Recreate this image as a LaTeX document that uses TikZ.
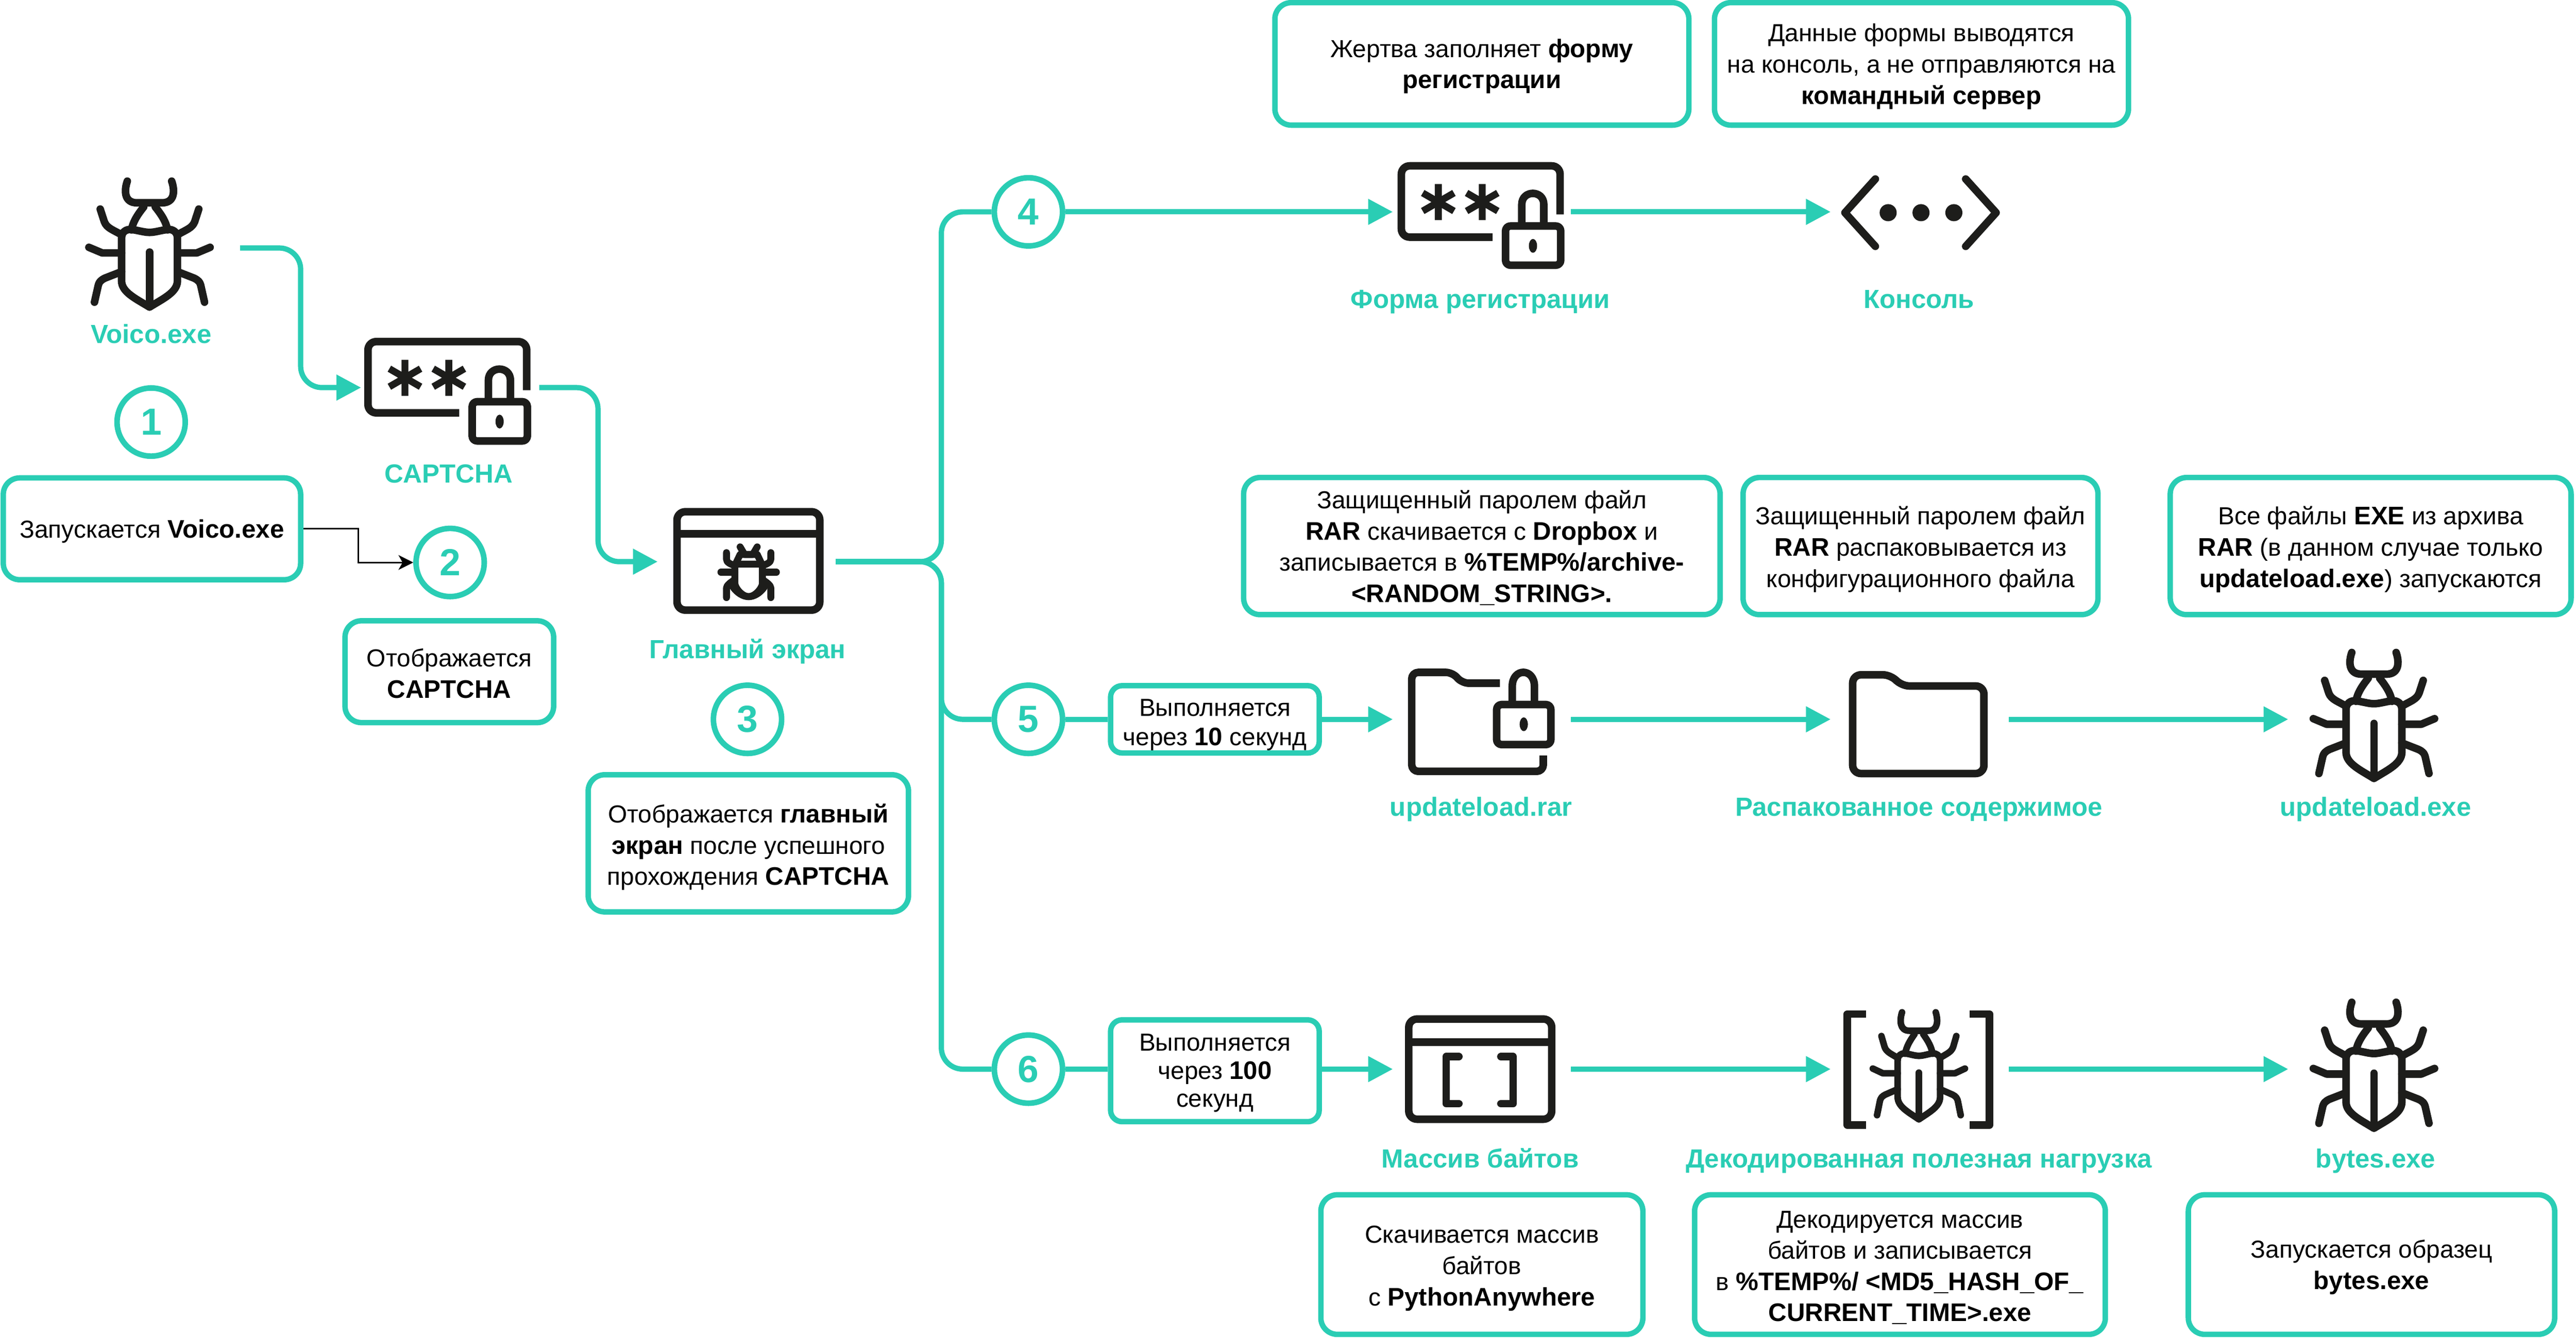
\documentclass[tikz,border=0pt]{standalone}
\usepackage{fontspec}
\setmainfont[BoldFeatures={Scale=1.03}]{Liberation Sans}
\usetikzlibrary{arrows.meta}
\definecolor{kteal}{HTML}{2ACDB4}
\definecolor{kdark}{HTML}{1D1D1B}
\newcommand{\lift}[1]{\rule{0pt}{\dimexpr 11.2pt+#1pt*2\relax}}
\newcommand{\beetlestrokes}{%
  \draw (-17,-6) .. controls (-17,-10) and (-14,-11.5) .. (-11,-11.3) .. controls (-6,-10.5) and (-3,-9.5) .. (0,-9.5) .. controls (3,-9.5) and (6,-10.5) .. (11,-11.3) .. controls (14,-11.5) and (17,-10) .. (17,-6) -- (17,20) .. controls (17,27) and (8,31) .. (0,36) .. controls (-8,31) and (-17,27) .. (-17,20) -- cycle;
  \draw (0,2.5) -- (0,35.5);
  \draw (-11,-11) .. controls (-10,-16) and (-7.5,-20) .. (-3.5,-25) (11,-11) .. controls (10,-16) and (7.5,-20) .. (3.5,-25);
  \draw (-13.5,-40.7) .. controls (-15.5,-35) and (-15.5,-27.5) .. (-7.6,-27.5) -- (7.6,-27.5) .. controls (15.5,-27.5) and (15.5,-35) .. (13.5,-40.7);
  \draw (-30,-23.7) -- (-27.5,-16) .. controls (-26,-12) and (-22,-11) .. (-17,-8) (30,-23.7) -- (27.5,-16) .. controls (26,-12) and (22,-11) .. (17,-8);
  \draw (-36.9,-0.4) -- (-28.8,3) -- (-17,3) (36.9,-0.4) -- (28.8,3) -- (17,3);
  \draw (-33.5,33) -- (-31.4,23.7) .. controls (-30.8,20.5) and (-29.5,19.5) .. (-27,18.3) -- (-17,14.4) (33.5,33) -- (31.4,23.7) .. controls (30.8,20.5) and (29.5,19.5) .. (27,18.3) -- (17,14.4);
}
\tikzset{
  flow/.style={draw=kteal,line width=3.2pt,-{Triangle[length=15pt,width=15pt]}},
  flowplain/.style={draw=kteal,line width=3.2pt},
  thinflow/.style={draw=black,line width=1pt,-{Stealth[length=9pt,width=9pt,inset=2.5pt]}},
  notebox/.style={draw=kteal,line width=3.3pt,rounded corners=10pt,fill=white,align=center,inner sep=0pt,font=\fontsize{15}{19}\selectfont},
  notetight/.style={notebox,rounded corners=7pt,font=\fontsize{15}{18}\selectfont},
  numdisc/.style={circle,draw=kteal,line width=3.4pt,fill=white,minimum size=41.5pt,inner sep=0pt,text=kteal,font=\fontsize{22.3}{23}\bfseries\selectfont},
  iconlabel/.style={text=kteal,inner sep=0pt,anchor=base,font=\fontsize{15.5}{18}\bfseries\selectfont},
  iconbox/.style={inner sep=0pt,minimum width=108pt,minimum height=60pt},
  ink/.style={draw=kdark,line width=4.6pt,line cap=round,line join=round},
  inkbutt/.style={draw=kdark,line width=4.6pt,line join=round},
  pics/beetle/.style={code={
    \begin{scope}[ink]
      \beetlestrokes
    \end{scope}
  }},
  pics/lockform/.style={code={
    \begin{scope}[inkbutt]
      \draw[rounded corners=5pt] (47.6,1.6) -- (47.6,-28) -- (-49,-28) -- (-49,15.4) -- (6.5,15.4);
      \foreach \cx in {-26.5,0.2}{
        \draw[line width=4.2pt] (\cx,-16.9) -- (\cx,5) (\cx-9.5,-11.5) -- (\cx+9.5,-0.5) (\cx-9.5,-0.5) -- (\cx+9.5,-11.5);
      }
      \draw[rounded corners=3pt] (14.4,8.6) rectangle (48,32.5);
      \draw (24.3,8.6) -- (24.3,-4.5) .. controls (24.3,-13.5) and (37.7,-13.5) .. (37.7,-4.5) -- (37.7,8.6);
      \fill[kdark] (31.1,20.7) ellipse (2.5 and 4.2);
    \end{scope}
  }},
  pics/bugwindow/.style={code={
    \begin{scope}[inkbutt]
      \draw[rounded corners=5pt] (-43.6,-30.4) rectangle (43.3,29.5);
      \draw (-43.6,-16.9) -- (43.3,-16.9);
      \begin{scope}[ink,line width=4.2pt]
        \draw (-8.4,1.5) -- (8.4,1.5) -- (8.4,13) .. controls (8.4,16) and (4,21.3) .. (0,21.3) .. controls (-4,21.3) and (-8.4,16) .. (-8.4,13) -- cycle;
        \draw (-5.2,-9) -- (-2.5,-4.4) -- (2.5,-4.4) -- (5.2,-9);
        \draw (-8,1.5) -- (-5.2,-4.4) -- (5.2,-4.4) -- (8,1.5);
        \draw (-13.5,-5.5) -- (-13.5,-1.5) .. controls (-13.5,0.5) and (-11,1.5) .. (-8.4,2.4) (13.5,-5.5) -- (13.5,-1.5) .. controls (13.5,0.5) and (11,1.5) .. (8.4,2.4);
        \draw (-16.9,6.4) -- (-8.4,6.4) (16.9,6.4) -- (8.4,6.4);
        \draw (-13.5,21.9) -- (-13.5,16) .. controls (-13.5,14.5) and (-11,12.5) .. (-8.4,11) (13.5,21.9) -- (13.5,16) .. controls (13.5,14.5) and (11,12.5) .. (8.4,11);
        \draw (-9.5,15.5) .. controls (-7,19) and (-3.5,21.3) .. (0,21.3) .. controls (3.5,21.3) and (7,19) .. (9.5,15.5);
      \end{scope}
    \end{scope}
  }},
  pics/consoleicon/.style={code={
    \begin{scope}[ink]
      \draw (-26.5,-20) -- (-45,0.5) -- (-26.5,21);
      \draw (28.5,-20) -- (47,0.5) -- (28.5,21);
      \fill[kdark] (-18.7,0.5) circle (5.2) (1.3,0.5) circle (5.2) (21.3,0.5) circle (5.2);
    \end{scope}
  }},
  pics/lockfolder/.style={code={
    \begin{scope}[inkbutt]
      \draw[rounded corners=4pt] (37.4,22) -- (37.4,31.7) -- (-42.7,31.7) -- (-42.7,-28.6) -- (-18,-28.6) -- (-12,-22) -- (11,-22);
      \draw[rounded corners=3pt] (9,-9) rectangle (42,15.4);
      \draw (18.5,-9) -- (18.5,-20) .. controls (18.5,-31.5) and (32,-31.5) .. (32,-20) -- (32,-9);
      \fill[kdark] (25.5,3) ellipse (2.5 and 4.2);
    \end{scope}
  }},
  pics/plainfolder/.style={code={
    \begin{scope}[inkbutt]
      \draw[rounded corners=5pt] (-40.3,-27.1) -- (-16.8,-27.1) -- (-10.8,-20.3) -- (39.6,-20.3) -- (39.6,33) -- (-40.3,33) -- cycle;
    \end{scope}
  }},
  pics/bracketwindow/.style={code={
    \begin{scope}[inkbutt]
      \draw[rounded corners=5pt] (-43.5,-30.5) rectangle (43.5,30.5);
      \draw (-43.5,-16.5) -- (43.5,-16.5);
      \draw[line cap=round] (-13,-7.6) -- (-20.7,-7.6) -- (-20.7,21) -- (-13,21);
      \draw[line cap=round] (12.6,-7.6) -- (20,-7.6) -- (20,21) -- (12.6,21);
    \end{scope}
  }},
  pics/bracketbug/.style={code={
    \begin{scope}[inkbutt]
      \draw (-32.3,-33.5) -- (-43.5,-33.5) -- (-43.5,34) -- (-32.3,34);
      \draw (31,-33.5) -- (43,-33.5) -- (43,34) -- (31,34);
    \end{scope}
    \begin{scope}[xscale=.76,yscale=.85,ink,line width=4pt]
      \beetlestrokes
    \end{scope}
  }},
}
\begin{document}
\begin{tikzpicture}[x=1pt,y=-1pt]
\useasboundingbox (0,0) rectangle (1568,814.5);
\fill[white] (0,0) rectangle (1568,814.5);

% icon anchors
\node[iconbox] (voico) at (92,151) {};
\node[iconbox] (captcha) at (274,236) {};
\node[iconbox] (mainscr) at (454.5,342) {};
\node[iconbox] (form) at (902,129) {};
\node[iconbox] (console) at (1168.5,129) {};
\node[iconbox] (rar) at (902,438) {};
\node[iconbox] (unpacked) at (1168.5,438) {};
\node[iconbox] (upexe) at (1447,438) {};
\node[iconbox] (bytesarr) at (902,651) {};
\node[iconbox] (decoded) at (1168.5,651) {};
\node[iconbox] (bytesexe) at (1447,651) {};

\pic at ([xshift=-1pt]voico.center) {beetle};
\pic at ([xshift=-1pt]captcha.center) {lockform};
\pic at ([xshift=1.2pt]mainscr.center) {bugwindow};
\pic at (form.center) {lockform};
\pic at ([xshift=-.5pt]console.center) {consoleicon};
\pic at (rar.center) {lockfolder};
\pic at ([xshift=-.5pt]unpacked.center) {plainfolder};
\pic at ([xshift=-2pt]upexe.center) {beetle};
\pic at ([xshift=-1pt]bytesarr.center) {bracketwindow};
\pic at ([xshift=-.5pt]decoded.center) {bracketbug};
\pic at ([xshift=-2pt]bytesexe.center) {beetle};

% captions
\node[iconlabel] (capvoico) at (92,209) {Voico.exe};
\node[iconlabel] (capcaptcha) at (273,294) {CAPTCHA};
\node[iconlabel] (capmain) at (455,401) {Главный экран};
\node[iconlabel] (capform) at (901,187.7) {Форма регистрации};
\node[iconlabel] (capconsole) at (1168,187.7) {Консоль};
\node[iconlabel] (caprar) at (901.5,497) {updateload.rar};
\node[iconlabel] (capunpacked) at (1168,497) {Распакованное содержимое};
\node[iconlabel] (capupexe) at (1446,497) {updateload.exe};
\node[iconlabel] (capbytes) at (901,711) {Массив байтов};
\node[iconlabel] (capdecoded) at (1168,711) {Декодированная полезная нагрузка};
\node[iconlabel] (capbytesexe) at (1446,711) {bytes.exe};

% notes
\node[notebox,minimum width=181pt,minimum height=62pt] (n1) at (92.5,322) {\lift{1.5}Запускается \textbf{Voico.exe}};
\node[notebox,minimum width=127pt,minimum height=62pt] (n2) at (273.5,409) {\lift{1}Отображается\\\textbf{CAPTCHA}};
\node[notebox,minimum width=195pt,minimum height=83.5pt] (n3) at (455.5,513.5) {\lift{2.5}Отображается \textbf{главный}\\\textbf{экран} после успешного\\прохождения \textbf{CAPTCHA}};
\node[notebox,minimum width=252pt,minimum height=74.6pt] (t1) at (902,38.9) {\lift{1.5}Жертва заполняет \textbf{форму}\\\textbf{регистрации}};
\node[notebox,minimum width=252pt,minimum height=74.6pt] (t2) at (1169.6,38.9) {\lift{1.5}Данные формы выводятся\\на консоль, а не отправляются на\\\textbf{командный сервер}};
\node[notebox,minimum width=290pt,minimum height=83.5pt] (m1) at (902,332.5) {\lift{1}Защищенный паролем файл\\\textbf{RAR} скачивается с \textbf{Dropbox} и\\записывается в \textbf{\%TEMP\%/archive-}\\\textbf{<RANDOM\_STRING>.}};
\node[notebox,minimum width=216pt,minimum height=83.5pt] (m2) at (1169,332.5) {\lift{2}Защищенный паролем файл\\\textbf{RAR} распаковывается из\\конфигурационного файла};
\node[notebox,minimum width=244pt,minimum height=83.5pt] (m3) at (1443,332.5) {\lift{2}Все файлы \textbf{EXE} из архива\\\textbf{RAR} (в данном случае только\\\textbf{updateload.exe}) запускаются};
\node[notebox,minimum width=196pt,minimum height=85pt] (b1) at (902,770) {\lift{2}Скачивается массив\\байтов\\с \textbf{PythonAnywhere}};
\node[notebox,minimum width=250pt,minimum height=85pt] (b2) at (1156.5,770) {\lift{1.5}Декодируется массив\\байтов и записывается\\в \textbf{\%TEMP\%/ <MD5\_HASH\_OF\_}\\\textbf{CURRENT\_TIME>.exe}};
\node[notebox,minimum width=223pt,minimum height=85pt] (b3) at (1443.5,770) {\lift{1.5}Запускается образец\\\textbf{bytes.exe}};

% number circles
\node[numdisc] (c1) at (92,257) {1};
\node[numdisc] (c2) at (274,342.5) {2};
\node[numdisc] (c3) at (455,438) {3};
\node[numdisc] (c4) at (626,129) {4};
\node[numdisc] (c5) at (626,438) {5};
\node[numdisc] (c6) at (626,651) {6};

% delay notes
\node[notetight,minimum width=127pt,minimum height=41pt] (d5) at (739.5,438) {\lift{3}Выполняется\\через \textbf{10} секунд};
\node[notetight,minimum width=127pt,minimum height=62pt,font=\fontsize{15}{17}\selectfont] (d6) at (739.5,652) {\lift{1}Выполняется\\через \textbf{100}\\секунд};

% routing points
\coordinate (k1) at (183,190);
\coordinate (k2) at (364,290);
\coordinate (k3) at (218,330);
\coordinate (trunk) at (573,342);

% connectors
\draw[flow,rounded corners=13pt] (voico.east) -| (k1) |- (captcha.west);
\draw[flow,rounded corners=13pt] (captcha.east) -| (k2) |- (mainscr.west);
\draw[flowplain,rounded corners=13pt] (mainscr.east) -- (trunk) |- (c4.west);
\draw[flowplain,rounded corners=13pt] (mainscr.east) -- (trunk) |- (c5.west);
\draw[flowplain,rounded corners=13pt] (mainscr.east) -- (trunk) |- (c6.west);
\draw[flow] (c4.east) -- (form.west);
\draw[flow] (form.east) -- (console.west);
\draw[flowplain] (c5.east) -- (d5.west);
\draw[flow] (d5.east) -- (rar.west);
\draw[flow] (rar.east) -- (unpacked.west);
\draw[flow] (unpacked.east) -- (upexe.west);
\draw[flowplain] (c6.east) -- (d6.west |- c6.east);
\draw[flow] (d6.east |- bytesarr.west) -- (bytesarr.west);
\draw[flow] (bytesarr.east) -- (decoded.west);
\draw[flow] (decoded.east) -- (bytesexe.west);
\draw[thinflow] (n1.east) -| (k3) |- (c2.west);
\end{tikzpicture}
\end{document}
